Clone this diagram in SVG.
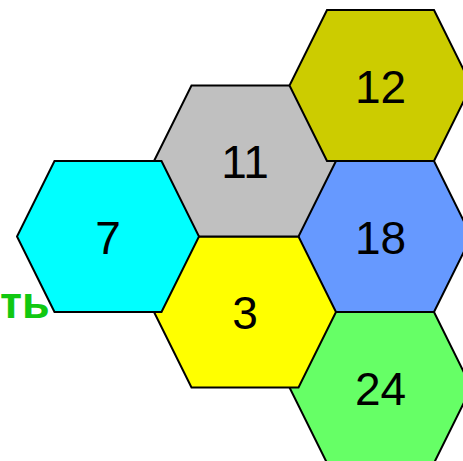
<svg xmlns="http://www.w3.org/2000/svg" width="463" height="461" viewBox="0 0 463 461">
<defs>
<style>
.hex{stroke:#000;stroke-width:2;stroke-linejoin:miter}
.num{font-family:"Liberation Sans",Arial,sans-serif;font-size:46px;fill:#000;text-anchor:middle}
.lbl{font-family:"Liberation Sans",Arial,sans-serif;font-size:45px;font-weight:bold;fill:#11C811;text-anchor:start}
</style>
<polygon id="hexshape" points="-53.5,-75.5 53.5,-75.5 91,0 53.5,75.5 -53.5,75.5 -91,0"/>
</defs>
<rect width="463" height="461" fill="#fff"/>
<g id="connectors"/>
<g id="node-24" transform="translate(380.5,387.5)">
<use href="#hexshape" class="hex" fill="#66FF66"/>
<text class="num" x="0" y="17">24</text>
</g>
<g id="node-18" transform="translate(380.5,236.5)">
<use href="#hexshape" class="hex" fill="#6699FF"/>
<text class="num" x="0" y="17">18</text>
</g>
<g id="node-3" transform="translate(245,312)">
<use href="#hexshape" class="hex" fill="#FFFF00"/>
<text class="num" x="0" y="17">3</text>
</g>
<g id="node-11" transform="translate(245,161)">
<use href="#hexshape" class="hex" fill="#C0C0C0"/>
<text class="num" x="0" y="17">11</text>
</g>
<g id="node-12" transform="translate(380.5,85.5)">
<use href="#hexshape" class="hex" fill="#CCCC00"/>
<text class="num" x="0" y="17">12</text>
</g>
<g id="node-7" transform="translate(108,236.5)">
<use href="#hexshape" class="hex" fill="#00FFFF"/>
<text class="num" x="0" y="17">7</text>
</g>
<g id="label">
<text class="lbl" x="0" y="318">ть</text>
</g>
</svg>
